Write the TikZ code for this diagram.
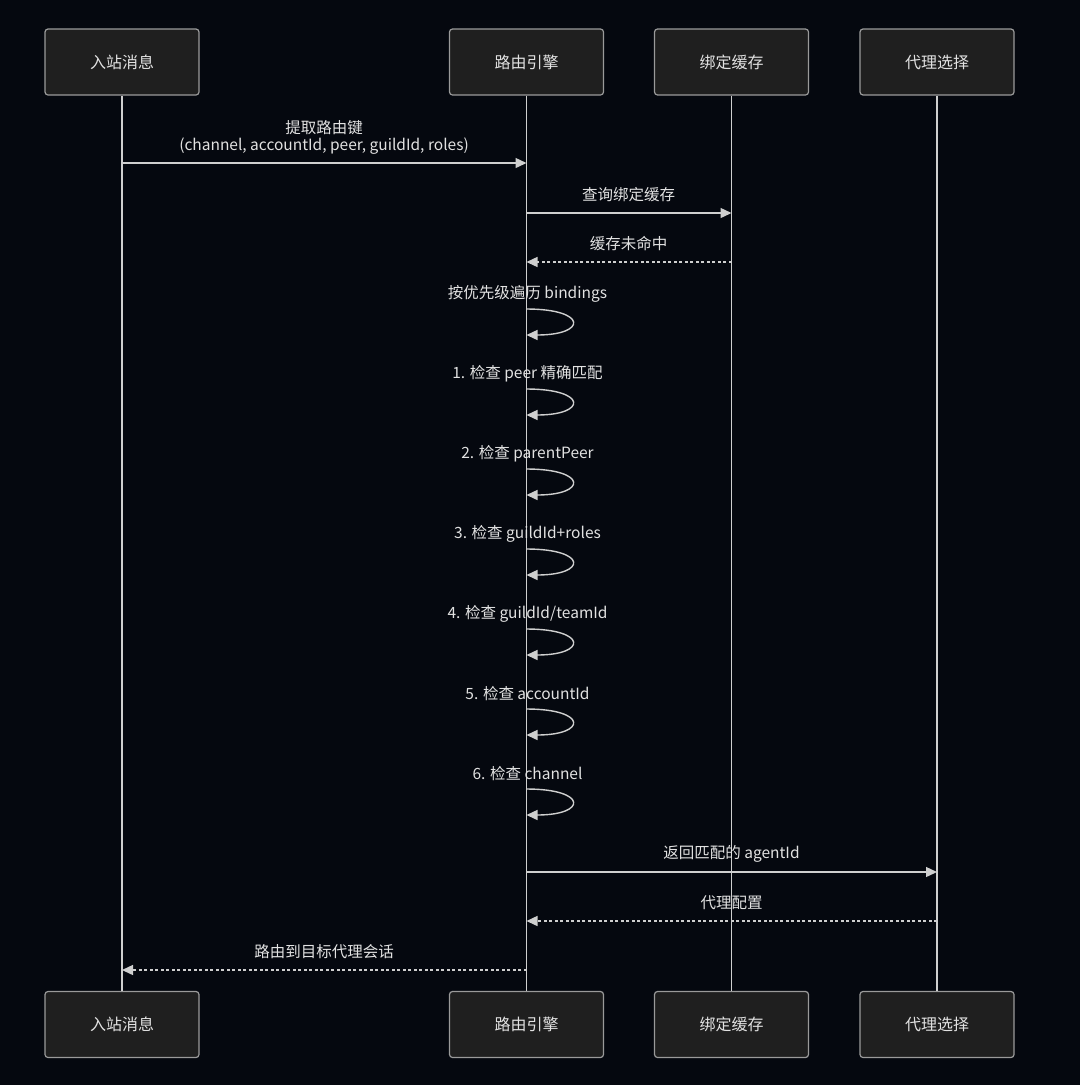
\documentclass[tikz,border=0pt]{standalone}
\usepackage{fontspec}
\setmainfont{Noto Sans CJK SC}
\usetikzlibrary{arrows.meta}
\definecolor{bg}{HTML}{05080F}
\definecolor{boxfill}{HTML}{1F1F1F}
\definecolor{boxline}{HTML}{9A9A9A}
\definecolor{lineclr}{HTML}{CFCFCF}
\definecolor{txt}{HTML}{E2E2E2}
\tikzset{
  x=1pt, y=-1pt,
  actor/.style={draw=boxline, fill=boxfill, rounded corners=3pt, line width=1.2pt,
    minimum width=154pt, minimum height=66pt, text=txt, font=\fontsize{16pt}{19pt}\selectfont, inner sep=0pt},
  lifeline/.style={draw=lineclr, line width=1.4pt},
  msg/.style={draw=lineclr, line width=1.4pt, -{Triangle[length=11pt,width=10pt]}},
  reply/.style={msg, dash pattern=on 3pt off 2.5pt},
  lbl/.style={text=txt, font=\fontsize{15.5pt}{18pt}\selectfont, inner sep=0pt},
}
\begin{document}
\begin{tikzpicture}
\useasboundingbox[fill=bg] (0,0) rectangle (1080,1085);
% participants
\node[actor] (inT) at (122,62) {入站消息};
\node[actor] (reT) at (526.5,62) {路由引擎};
\node[actor] (caT) at (731.5,62) {绑定缓存};
\node[actor] (agT) at (937,62) {代理选择};
\node[actor] (inB) at (122,1024.5) {入站消息};
\node[actor] (reB) at (526.5,1024.5) {路由引擎};
\node[actor] (caB) at (731.5,1024.5) {绑定缓存};
\node[actor] (agB) at (937,1024.5) {代理选择};
% lifelines
\draw[lifeline] (inT) -- (inB);
\draw[lifeline] (reT) -- (reB);
\draw[lifeline] (caT) -- (caB);
\draw[lifeline] (agT) -- (agB);
% message 1
\node[lbl] (l1a) at (324,128) {提取路由键};
\node[lbl] (l1b) at (324,146) {(channel, accountId, peer, guildId, roles)};
\coordinate (m1a) at (inT.south |- 0,163);
\coordinate (m1b) at (reT.south |- 0,163);
\draw[msg] (m1a) -- (m1b);
% message 2
\node[lbl] (l2) at (628.5,195) {查询绑定缓存};
\coordinate (m2a) at (reT.south |- 0,213);
\coordinate (m2b) at (caT.south |- 0,213);
\draw[msg] (m2a) -- (m2b);
% message 3
\node[lbl] (l3) at (628.5,244) {缓存未命中};
\coordinate (m3a) at (caT.south |- 0,262);
\coordinate (m3b) at (reT.south |- 0,262);
\draw[reply] (m3a) -- (m3b);
% self loops
\foreach \t/\txt/\nm in {293/{按优先级遍历 bindings}/s0, 373/{1. 检查 peer 精确匹配}/s1, 453/{2. 检查 parentPeer}/s2, 533/{3. 检查 guildId+roles}/s3, 613/{4. 检查 guildId/teamId}/s4, 693/{5. 检查 accountId}/s5, 773/{6. 检查 channel}/s6}{
  \node[lbl] (\nm) at (527.5,\t+1) {\txt};
  \coordinate (\nm a) at (reT.south |- 0,\t+16);
  \coordinate (\nm b) at (reT.south |- 0,\t+42);
  \draw[msg] (\nm a) .. controls +(61,0) and +(61,0) .. (\nm b);
}
% message 4
\node[lbl] (l4) at (731.5,854) {返回匹配的 agentId};
\coordinate (m4a) at (reT.south |- 0,872);
\coordinate (m4b) at (agT.south |- 0,872);
\draw[msg] (m4a) -- (m4b);
% message 5
\node[lbl] (l5) at (731.5,903) {代理配置};
\coordinate (m5a) at (agT.south |- 0,921);
\coordinate (m5b) at (reT.south |- 0,921);
\draw[reply] (m5a) -- (m5b);
% message 6
\node[lbl] (l6) at (324,952) {路由到目标代理会话};
\coordinate (m6a) at (reT.south |- 0,970);
\coordinate (m6b) at (inT.south |- 0,970);
\draw[reply] (m6a) -- (m6b);
\end{tikzpicture}
\end{document}
